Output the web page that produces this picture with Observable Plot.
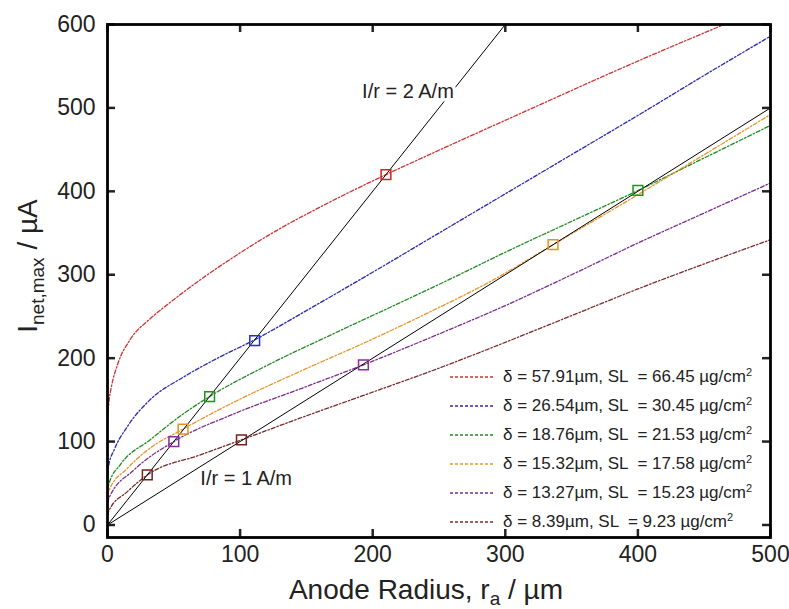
<!DOCTYPE html>
<html>
<head>
<meta charset="utf-8">
<script src="https://cdn.jsdelivr.net/npm/d3@7"></script>
<script src="https://cdn.jsdelivr.net/npm/@observablehq/plot@0.6"></script>
<style>
  html, body { margin: 0; padding: 0; background: white; }
  #chart { width: 789px; height: 609px; }
</style>
</head>
<body>
<div id="chart"></div>
<script>
// ---------- data ----------
const xTicks = [0, 100, 200, 300, 400, 500];
const yTicks = [0, 100, 200, 300, 400, 500, 600];

const seriesNames = ["red", "blue", "green", "orange", "purple", "brown"];
const seriesColors = ["#cc3333", "#2b2bb0", "#228b22", "#e8952e", "#7b2d8e", "#7a2b2b"];
const markerColors = ["#d42020", "#1f2fd8", "#1a961a", "#e8921c", "#8a2aa0", "#7a1e1e"];
const deltaLabels = ["57.91", "26.54", "18.76", "15.32", "13.27", "8.39"];
const slLabels = ["66.45", "30.45", "21.53", "17.58", "15.23", "9.23"];

// curves: [anode radius µm, I µA]
const redPts = [[0,125],[1,146],[3,166],[7.5,192],[17,222],[32,247],[45,264],[70,294],[95,321],[120,346],[170,389],[210,420],[251,450],[318,498],[394,552],[465,600]];
const bluePts = [[0,60],[1,72],[5,90],[15,118],[32,150],[57,177],[83,200],[111,222],[150,257],[200,303],[250,350],[300,397],[350,444],[400,491],[450,539],[500,586]];
const greenPts = [[0,40],[1,49],[10,73],[32,102],[57,133],[77,154],[120,191],[170,229],[220,266],[260,296],[300,327],[350,364],[400,401],[450,440],[500,479]];
const orangePts = [[0,35],[1,41],[15,68],[32,92],[57,115],[95,147],[145,184],[196,220],[240,253],[290,293],[336,336],[400,396],[450,444],[500,492]];
const purplePts = [[0,27],[1,32],[20,66],[50,100],[95,133],[145,163],[193,192],[250,229],[300,263],[350,300],[400,338],[450,374],[500,410]];
const brownPts = [[0,12],[1,17],[15,40],[30,60],[70,84],[101,102],[145,128],[196,157],[250,188],[300,219],[350,251],[400,283],[450,313],[500,342]];
const curves = [redPts, bluePts, greenPts, orangePts, purplePts, brownPts];

// reference lines I/r = 2 A/m and I/r = 1 A/m
const line2 = [[0,0],[300,600]];
const line1 = [[0,0],[500,500]];

// intersection markers: [x, y, series index]
const markers = [
  [210,420,0],
  [111,221,1],
  [77,154,2],[400,401,2],
  [57,115,3],[336,336,3],
  [50,100,4],[193,192,4],
  [30,60,5],[101,102,5]
];

const lineLabels = [
  {x: 192, y: 520, text: "I/r = 2 A/m"},
  {x: 70, y: 56, text: "I/r = 1 A/m"}
];

// ---------- layout ----------
const W = 789, H = 609, mL = 107, mR = 19, mT = 24, mB = 72;
const pW = W - mL - mR, pH = H - mT - mB;
const font = "'Liberation Sans', Arial, Helvetica, sans-serif";
const tickLen = 8;

const marks = [];
curves.forEach((pts, i) => {
  marks.push(Plot.line(pts, {
    x: d => d[0], y: d => d[1], stroke: seriesColors[i], strokeWidth: 1.3,
    strokeDasharray: "4,2,1.5,2", curve: "monotone-x"
  }));
});
marks.push(Plot.line(line2, {x: d => d[0], y: d => d[1], stroke: "black", strokeWidth: 1}));
marks.push(Plot.line(line1, {x: d => d[0], y: d => d[1], stroke: "black", strokeWidth: 1}));
marks.push(Plot.text(lineLabels, {
  x: "x", y: "y", text: "text", textAnchor: "start", fontSize: 20, fill: "#222",
  stroke: "white", strokeWidth: 7, fontFamily: font
}));
marks.push(Plot.dot(markers, {
  x: d => d[0], y: d => d[1], symbol: "square", r: 5.5, fill: "none",
  stroke: d => markerColors[d[2]], strokeWidth: 1.5
}));
// inward ticks on all four sides
marks.push(Plot.tickX(xTicks, {x: d => d, insetTop: pH - tickLen, strokeWidth: 2.5}));
marks.push(Plot.tickX(xTicks, {x: d => d, insetBottom: pH - tickLen, strokeWidth: 2.5}));
marks.push(Plot.tickY(yTicks, {y: d => d, insetRight: pW - tickLen, strokeWidth: 2.5}));
marks.push(Plot.tickY(yTicks, {y: d => d, insetLeft: pW - tickLen, strokeWidth: 2.5}));
marks.push(Plot.frame({stroke: "black", strokeWidth: 2.8}));
marks.push(Plot.axisX({ticks: xTicks, tickSize: 0, tickPadding: 8, fontSize: 23, label: null, fill: "#222"}));
marks.push(Plot.axisY({ticks: yTicks, tickSize: 0, tickPadding: 12, fontSize: 23, label: null, fill: "#222"}));

const chart = Plot.plot({
  width: W, height: H,
  marginLeft: mL, marginRight: mR, marginTop: mT, marginBottom: mB,
  x: {domain: [0, 500]},
  y: {domain: [-15, 600]},
  style: {fontFamily: font, background: "white", color: "#222"},
  marks
});
document.getElementById("chart").appendChild(chart);

// ---------- axis titles & legend ----------
const svg = d3.select(chart);

// x title
const xt = svg.append("text")
  .attr("x", 426).attr("y", 599)
  .attr("text-anchor", "middle")
  .attr("font-family", font).attr("font-size", 28).attr("fill", "#222");
xt.append("tspan").text("Anode Radius, r");
xt.append("tspan").attr("font-size", 19).attr("dy", 6).text("a");
xt.append("tspan").attr("dy", -6).text(" / \u00b5m");

// y title
const yt = svg.append("text")
  .attr("transform", "translate(37,266) rotate(-90)")
  .attr("text-anchor", "middle")
  .attr("font-family", font).attr("font-size", 28).attr("fill", "#222");
yt.append("tspan").text("I");
yt.append("tspan").attr("font-size", 19).attr("dy", 7).text("net,max");
yt.append("tspan").attr("dy", -7).text(" / \u00b5A");

// legend
const lg = svg.append("g");
seriesNames.forEach((n, i) => {
  const yy = 377 + 29 * i;
  lg.append("line")
    .attr("x1", 450).attr("x2", 495).attr("y1", yy).attr("y2", yy)
    .attr("stroke", seriesColors[i]).attr("stroke-width", 1.3)
    .attr("stroke-dasharray", "3,2");
  const t = lg.append("text")
    .attr("x", 503).attr("y", yy + 5)
    .attr("text-anchor", "start")
    .attr("font-family", font).attr("font-size", 17).attr("fill", "#222")
    .style("white-space", "pre");
  t.append("tspan").text(`\u03b4 = ${deltaLabels[i]}\u00b5m, SL  = ${slLabels[i]} \u00b5g/cm`);
  t.append("tspan").attr("font-size", 11).attr("dy", -6).text("2");
});
</script>
</body>
</html>
